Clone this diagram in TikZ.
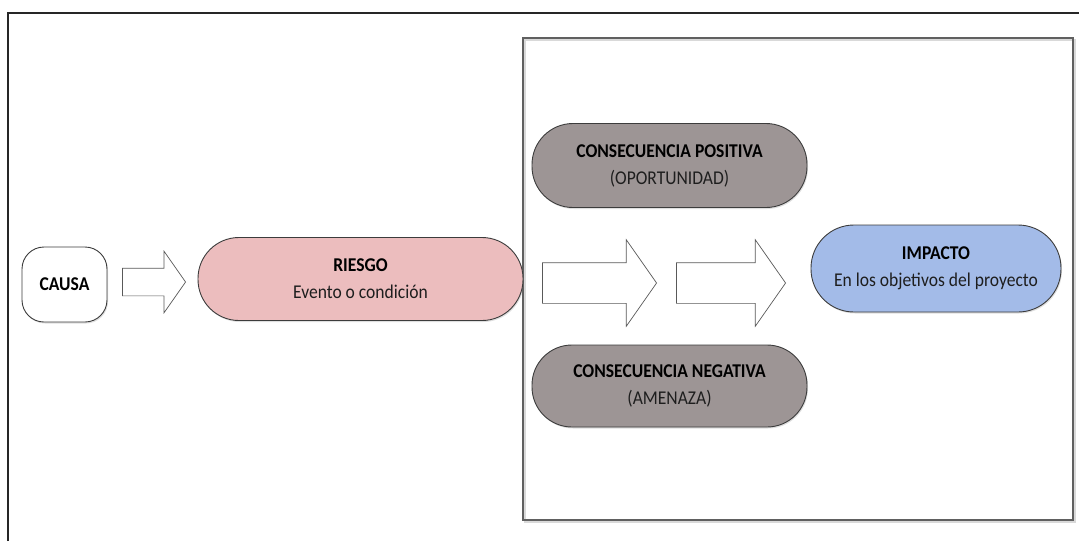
\documentclass[tikz,border=0pt]{standalone}
\usepackage{fontspec}
\setmainfont{Carlito}[FakeStretch=0.9]
\usetikzlibrary{shapes.arrows,shadows}

\definecolor{riskfill}{RGB}{236,189,190}
\definecolor{consfill}{RGB}{157,149,149}
\definecolor{impactfill}{RGB}{163,187,232}
\definecolor{edge}{RGB}{60,60,60}
\definecolor{subtext}{RGB}{30,30,30}

\tikzset{
  pill/.style={draw=edge, line width=0.9pt, align=center, inner sep=0pt,
    font=\fontsize{19.5}{27}\selectfont,
    drop shadow={opacity=0.25, shadow xshift=1pt, shadow yshift=-1.5pt}},
  blockarrow/.style={single arrow, draw=edge!85, line width=0.7pt, fill=white,
    inner xsep=0pt, single arrow tip angle=110, single arrow head indent=0pt,
    anchor=tip}
}

\begin{document}
\begin{tikzpicture}[x=1pt, y=-1pt]
  \useasboundingbox (0,0) rectangle (1079,541);

  % open outer frame: top and left edges
  \draw[line width=1.2pt, black!85] (8,541) -- (8,13) -- (1079,13);

  % frame around the consequences and impact
  \draw[gray!30, line width=1.6pt] (525,40) rectangle (1075,522);
  \draw[gray!75!black, line width=1.3pt] (523,38) rectangle (1073,520);

  % nodes
  \node[pill, fill=white, minimum width=85pt, minimum height=75pt,
        rounded corners=22pt] (causa) at (64.5,284.5) {\textbf{CAUSA}};

  \node[pill, fill=riskfill, minimum width=325pt, minimum height=83pt,
        rounded corners=41pt] (riesgo) at (360.5,279)
        {\textbf{RIESGO}\\{\color{subtext}Evento o condición}};

  \node[pill, fill=consfill, minimum width=275pt, minimum height=84pt,
        rounded corners=41pt] (positiva) at (669.5,165.5)
        {\textbf{CONSECUENCIA POSITIVA}\\{\color{subtext}(OPORTUNIDAD)}};

  \node[pill, fill=consfill, minimum width=275pt, minimum height=82pt,
        rounded corners=40pt] (negativa) at (669.5,386)
        {\textbf{CONSECUENCIA NEGATIVA}\\{\color{subtext}(AMENAZA)}};

  \node[pill, fill=impactfill, minimum width=250pt, minimum height=87pt,
        rounded corners=43pt] (impacto) at (936,268.5)
        {\textbf{IMPACTO}\\{\color{subtext}En los objetivos del proyecto}};

  % block arrows between the stages, placed by their tips
  \node[blockarrow, minimum height=63pt, inner ysep=13.5pt,
        single arrow head extend=17pt] (a1) at (186,282) {};
  \node[blockarrow, minimum height=114pt, inner ysep=20pt,
        single arrow head extend=23pt] (a2) at (657,283) {};
  \node[blockarrow, minimum height=109pt, inner ysep=20pt,
        single arrow head extend=23pt] (a3) at (786,283) {};
\end{tikzpicture}
\end{document}
